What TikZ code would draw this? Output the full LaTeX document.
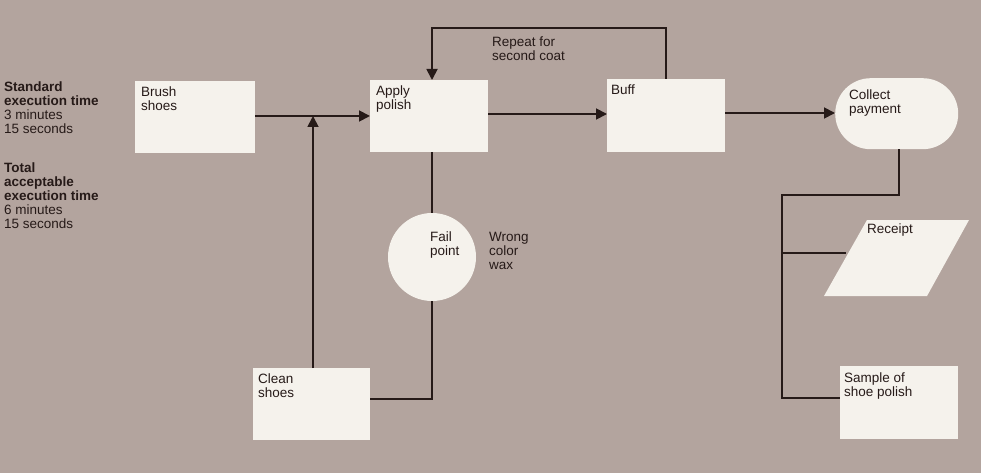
\documentclass[tikz,border=0pt]{standalone}
\usepackage{fontspec}
\setmainfont{Liberation Sans}
\usetikzlibrary{arrows.meta}
\definecolor{bg}{RGB}{179,164,158}
\definecolor{boxc}{RGB}{245,242,236}
\definecolor{ink}{RGB}{38,26,24}
\begin{document}
\begin{tikzpicture}[x=1pt,y=-1pt,
  txt/.style={font=\fontsize{13.5}{14}\selectfont, text=ink, align=left, inner sep=0pt, anchor=north west},
  bx/.style={fill=boxc, inner sep=0pt, anchor=north west},
  conn/.style={draw=ink, line width=1.8pt},
  arr/.style={conn, -{Triangle[length=11pt,width=11pt]}}]
\fill[bg] (0,0) rectangle (981,473);
\useasboundingbox (0,0) rectangle (981,473);

% side notes
\node[txt] (std) at (4,82) {\textbf{Standard}\\\textbf{execution time}\\3 minutes\\15 seconds};
\node[txt] (tot) at (4,163) {\textbf{Total}\\\textbf{acceptable}\\\textbf{execution time}\\6 minutes\\15 seconds};

% boxes
\node[bx, minimum width=120pt, minimum height=72pt] (brush) at (135,81) {};
\node[txt] (brushT) at (141,87) {Brush\\shoes};
\node[bx, minimum width=118pt, minimum height=72pt] (apply) at (370,80) {};
\node[txt] (applyT) at (376,86) {Apply\\polish};
\node[bx, minimum width=118pt, minimum height=73pt] (buff) at (607,79) {};
\node[txt] (buffT) at (611,85) {Buff};
\node[bx, minimum width=117pt, minimum height=72pt] (clean) at (253,368) {};
\node[txt] (cleanT) at (258,374) {Clean\\shoes};
\node[bx, minimum width=118pt, minimum height=73pt] (sample) at (840,366) {};
\node[txt] (sampleT) at (844,373) {Sample of\\shoe polish};
\node[bx, minimum width=123pt, minimum height=71pt, rounded corners=35.5pt] (collect) at (835,78) {};
\node[txt] (collectT) at (849,90) {Collect\\payment};
\fill[boxc] (867,220) -- (969,220) -- (927,296) -- (824,296) -- cycle;
\node[txt] (receiptT) at (867,224) {Receipt};
\node[circle, fill=boxc, minimum size=88pt, inner sep=0pt] (fail) at (432,257) {};
\node[txt] (failT) at (430,232) {Fail\\point};
\node[txt] (wrong) at (489,232) {Wrong\\color\\wax};
\node[txt] (repeat) at (492,37) {Repeat for\\second coat};

% connectors
\coordinate (j) at (313,116);
\coordinate (lt) at (666,28);
\coordinate (fj) at (432,399);
\coordinate (c1) at (899,195);
\coordinate (tk) at (782,195);
\coordinate (rl) at (846,253);
\coordinate (sb) at (782,398);

\draw[arr] (brush.east |- j) -- (apply.west |- j);
\draw[arr] (j |- clean.north) -- (j);
\draw[arr] (apply.east |- 0,114) -- (buff.west |- 0,114);
\draw[arr] (lt |- buff.north) -- (lt) -- (lt -| fail.north) -- (fail.north |- apply.north);
\draw[conn] (fail.north |- apply.south) -- (fail.north);
\draw[conn] (fail.south) -- (fj) -- (fj -| clean.east);
\draw[arr] (buff.east |- 0,113) -- (collect.west |- 0,113);
\draw[conn] (c1 |- collect.south) -- (c1) -- (tk) -- (sb) -- (sb -| sample.west);
\draw[conn] (tk |- rl) -- (rl);
\end{tikzpicture}
\end{document}
